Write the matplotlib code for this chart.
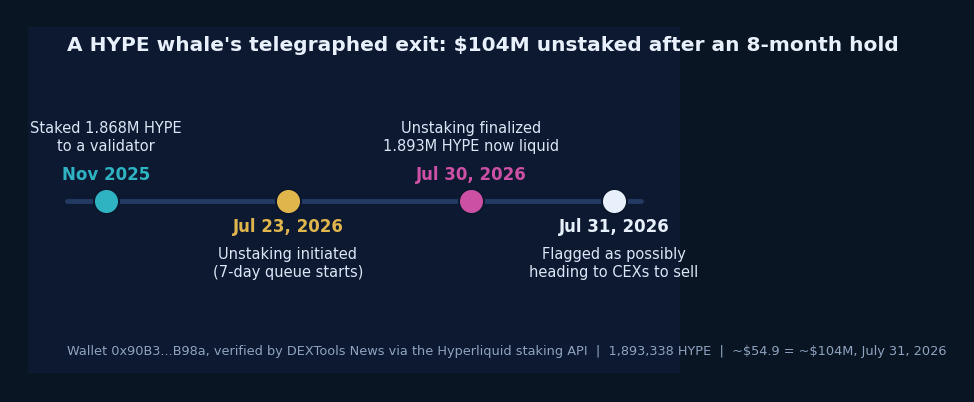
import matplotlib
matplotlib.use("Agg")
import matplotlib.pyplot as plt

dates = ["Nov 2025", "Jul 23, 2026", "Jul 30, 2026", "Jul 31, 2026"]
descriptions = ["Staked 1.868M HYPE\nto a validator",
                "Unstaking initiated\n(7-day queue starts)",
                "Unstaking finalized\n1.893M HYPE now liquid",
                "Flagged as possibly\nheading to CEXs to sell"]
positions = [0, 1, 2, 2.785]
above = [True, False, True, False]
colors = ["#2fb3c2", "#e0b64c", "#cc50a4", "#e8f0fb"]
title = "A HYPE whale's telegraphed exit: \\$104M unstaked after an 8-month hold"
note = ("Wallet 0x90B3...B98a, verified by DEXTools News via the Hyperliquid staking API  |  "
        "1,893,338 HYPE  |  ~\\$54.9 = ~\\$104M, July 31, 2026")

W, H = 974, 402
fig = plt.figure(figsize=(W / 100, 402.5 / 100), dpi=100, facecolor="#0a1524")
ax = fig.add_axes([28 / W, 1 - 373 / H, 652 / W, 346 / H])
ax.set_facecolor("#0c1930")
ax.set_xlim(-0.427, 3.145)
ax.set_ylim(-0.994, 1.006)
ax.set_xticks([]); ax.set_yticks([])
for s in ax.spines.values():
    s.set_visible(False)

ax.plot([-0.215, 2.93], [0, 0], color="#233a63", lw=3.5, solid_capstyle="round", zorder=1)
for x, d, t, up, c in zip(positions, dates, descriptions, above, colors):
    ax.scatter([x], [0], s=378, color="#0b172c", zorder=2, linewidths=0)
    ax.scatter([x], [0], s=275, color=c, zorder=3, linewidths=0)
    if up:
        ax.text(x, 0.149, d, color=c, fontsize=12, fontweight="bold", ha="center", va="center")
        ax.text(x, 0.368, t, color="#dbe5f5", fontsize=10.5, ha="center", va="center", linespacing=1.18)
    else:
        ax.text(x, -0.15, d, color=c, fontsize=12, fontweight="bold", ha="center", va="center")
        ax.text(x - 0.003, -0.359, t, color="#dbe5f5", fontsize=10.5, ha="center", va="center", linespacing=1.18)

fig.text(67 / W, 1 - 45 / H, title, color="#e8f0fb", fontsize=14.5, fontweight="bold", ha="left", va="center")
fig.text(67 / W, 1 - 351 / H, note, color="#8fa3bf", fontsize=9.3, ha="left", va="center")
fig.savefig("out.png", dpi=100, facecolor=fig.get_facecolor())
